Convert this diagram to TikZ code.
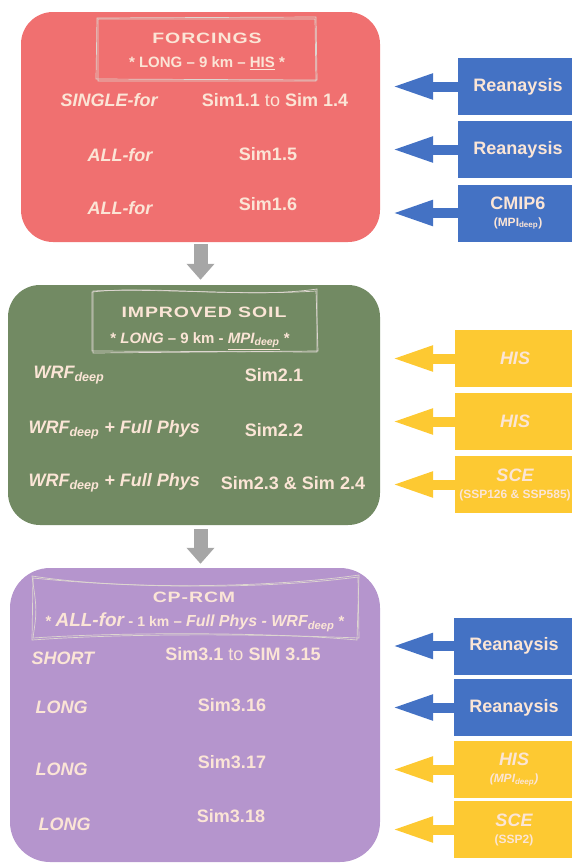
\documentclass[tikz,border=0pt]{standalone}
\usepackage{fontspec}
\setmainfont{Liberation Sans}
\newfontfamily\widefont[FakeStretch=1.3,LetterSpace=6]{Liberation Sans}
\usetikzlibrary{%
  arrows.meta,%
  calc%
}
\definecolor{forcred}{HTML}{F07070}
\definecolor{soilgreen}{HTML}{728A63}
\definecolor{cppurple}{HTML}{B595CD}
\definecolor{reablue}{HTML}{4472C4}
\definecolor{scenyellow}{HTML}{FDC932}
\definecolor{cream}{HTML}{FBE5D6}
\definecolor{framegray}{HTML}{DDD6D0}
\definecolor{flowgray}{HTML}{A6A6A6}
\newcommand{\subdeep}{\textsubscript{deep}}
\newcommand{\srcnote}[1]{{\fontsize{12}{13}\selectfont #1}}
\tikzset{>=latex,%
  stage/.style={inner sep=0pt,rounded corners=32pt},
  ttl/.style={text=cream,font=\widefont\bfseries\fontsize{15}{17}\selectfont},
  sub/.style={text=cream,font=\bfseries\fontsize{15}{17}\selectfont},
  lbl/.style={text=cream,font=\bfseries\itshape\fontsize{18}{20}\selectfont},
  sim/.style={text=cream,font=\bfseries\fontsize{18}{20}\selectfont},
  src/.style={minimum width=120pt,minimum height=57pt,inner sep=0pt,
    align=center,text=cream,font=\bfseries\fontsize{18}{20}\selectfont},
  sketch/.style={draw=framegray,line width=0.7pt},
  feed/.style={line width=10pt,-{Triangle[length=42pt,width=23pt]}},
  flow/.style={flowgray,line width=14pt,-{Triangle[length=16pt,width=27pt]}}}

\begin{document}
\begin{tikzpicture}[x=1pt,y=-1pt]
  \useasboundingbox (0,0) rectangle (571,865);
  \node[stage,fill=forcred,minimum width=359pt,minimum height=230pt] (forcings) at (200.5,127) {};
  \node[stage,fill=soilgreen,minimum width=372pt,minimum height=240pt] (soil) at (194,405) {};
  \node[stage,fill=cppurple,minimum width=370pt,minimum height=294pt,rounded corners=40pt] (cprcm) at (195,715) {};
  \draw[flow,shorten <=2pt,shorten >=5pt] (forcings.south) -- (forcings.south |- soil.north);
  \draw[flow,shorten <=4pt,shorten >=4pt] (forcings.south |- soil.south) -- (forcings.south |- cprcm.north);

  \draw[sketch] (97,18) -- (316,17) -- (317,80) -- (96,79) -- cycle;
  \draw[sketch] (98,19) -- (315,19) -- (316,81) -- (98,81) -- cycle;
  \node[ttl] (t1) at (207,38) {FORCINGS};
  \node[sub] (h1) at (207,63) {* LONG \textendash{} 9 km \textendash{} \underline{HIS} *};
  \node[lbl] (l11) at (109,100) {SINGLE-for};
  \node[sim] (s11) at (275,100) {Sim1.1 {\mdseries to} Sim 1.4};
  \node[lbl] (l12) at (120,155) {ALL-for};
  \node[sim] (s12) at (268,154) {Sim1.5};
  \node[lbl] (l13) at (120,208) {ALL-for};
  \node[sim] (s13) at (268,204) {Sim1.6};

  \draw[sketch] (92,292) .. controls (150,285) and (250,299) .. (317,289) -- (317,352) -- (92,351) -- cycle;
  \draw[sketch] (93,291) .. controls (160,288) and (240,296) .. (316,291) -- (318,351) -- (93,353) -- cycle;
  \node[ttl] (t2) at (204,312) {IMPROVED SOIL};
  \node[sub] (h2) at (200,341) {* {\itshape LONG} \textendash{} 9 km - {\itshape\underline{MPI\subdeep}} *};
  \node[lbl,anchor=west] (l21) at (30,375) {WRF\subdeep};
  \node[sim] (s21) at (274,375) {Sim2.1};
  \node[lbl,anchor=west] (l22) at (25,430) {WRF\subdeep{} + Full Phys};
  \node[sim] (s22) at (274,430) {Sim2.2};
  \node[lbl,anchor=west] (l23) at (25,483) {WRF\subdeep{} + Full Phys};
  \node[sim] (s23) at (293,483) {Sim2.3 \& Sim 2.4};

  \draw[sketch] (32,576) .. controls (120,590) and (270,588) .. (359,575) -- (357,640) .. controls (270,632) and (120,632) .. (33,638) .. controls (37,610) .. cycle;
  \draw[sketch] (33,578) .. controls (130,588) and (260,590) .. (358,577) -- (359,638) .. controls (260,634) and (130,633) .. (32,640) -- cycle;
  \node[ttl] (t3) at (194,597) {CP-RCM};
  \node[sub] (h3) at (195,622) {* {\itshape\fontsize{19}{20}\selectfont ALL-for} - {\fontsize{14}{15}\selectfont 1 km} \textendash{} {\itshape\fontsize{16}{17}\selectfont Full Phys - WRF\subdeep} *};
  \node[lbl,anchor=west] (l31) at (28,658) {SHORT};
  \node[sim] (s31) at (243,654) {Sim3.1 {\mdseries to} SIM 3.15};
  \node[lbl,anchor=west] (l32) at (32,707) {LONG};
  \node[sim] (s32) at (232,705) {Sim3.16};
  \node[lbl,anchor=west] (l33) at (32,769) {LONG};
  \node[sim] (s33) at (232,762) {Sim3.17};
  \node[lbl,anchor=west] (l34) at (35,824) {LONG};
  \node[sim] (s34) at (231,816) {Sim3.18};

  \coordinate (inlet) at (391,0);
  \node[src,fill=reablue] (rea1) at (518,86.5) {Reanaysis};
  \node[src,fill=reablue] (rea2) at (518,149.5) {Reanaysis};
  \node[src,fill=reablue] (cmip) at (518,213) {CMIP6\\[-3pt]\srcnote{(MPI\subdeep)}};
  \node[src,fill=scenyellow] (his1) at (515,358.5) {\itshape HIS};
  \node[src,fill=scenyellow] (his2) at (515,421.5) {\itshape HIS};
  \node[src,fill=scenyellow] (sce1) at (515,484.5) {\itshape SCE\\[-3pt]\srcnote{(SSP126 \& SSP585)}};
  \node[src,fill=reablue] (rea3) at (514,646) {Reanaysis};
  \node[src,fill=reablue] (rea4) at (514,707.5) {Reanaysis};
  \node[src,fill=scenyellow] (his3) at (514,769.5) {\itshape HIS\\[-3pt]\srcnote{\itshape (MPI\subdeep)}};
  \node[src,fill=scenyellow] (sce2) at (514,829.5) {\itshape SCE\\[-3pt]\srcnote{(SSP2)}};
  \foreach \s/\c in {rea1/reablue,rea2/reablue,cmip/reablue,his1/scenyellow,his2/scenyellow,sce1/scenyellow,rea3/reablue,rea4/reablue,his3/scenyellow,sce2/scenyellow}
    \draw[feed,\c] (\s.west) -- (\s.west -| inlet);
\end{tikzpicture}
\end{document}
